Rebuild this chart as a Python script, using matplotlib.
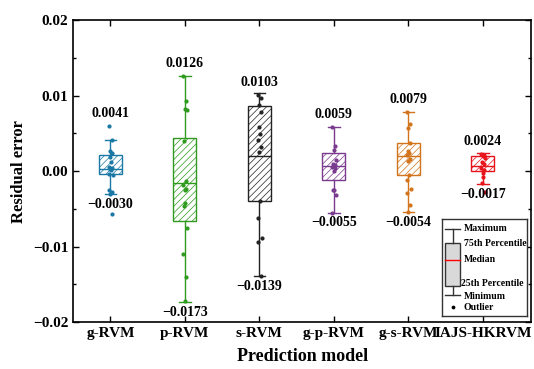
import numpy as np
import matplotlib
matplotlib.use("Agg")
import matplotlib.pyplot as plt
from matplotlib.patches import Rectangle
from matplotlib.ticker import MultipleLocator, FuncFormatter

plt.rcParams['font.family'] = ['Liberation Serif', 'DejaVu Serif']
plt.rcParams['font.weight'] = 'bold'
plt.rcParams['hatch.linewidth'] = 0.5

models = ['g-RVM', 'p-RVM', 's-RVM', 'g-p-RVM', 'g-s-RVM', 'IAJS-HKRVM']
colors = ['#1a78a4', '#2e9a1e', '#222222', '#7a3b8e', '#d2741c', '#e8141c']

q1 = [-0.0004, -0.0066, -0.0040, -0.0011, -0.0005, 0.0000]
med = [0.0003, -0.0015, 0.0020, 0.0007, 0.0020, 0.0007]
q3 = [0.0021, 0.0044, 0.0087, 0.0024, 0.0037, 0.0020]
wmin = [-0.0030, -0.0173, -0.0139, -0.0055, -0.0054, -0.0017]
wmax = [0.0041, 0.0126, 0.0103, 0.0059, 0.0079, 0.0024]

points = [
    [0.0060, 0.0041, 0.0027, 0.0024, 0.0019, 0.0012, 0.0005, 0.0004, 0.0003, 0.0002, -0.0004, -0.0005, -0.0025, -0.0027, -0.0030, -0.0057],
    [0.0126, 0.0093, 0.0082, 0.0081, 0.0040, -0.0013, -0.0018, -0.0024, -0.0025, -0.0042, -0.0046, -0.0075, -0.0110, -0.0140, -0.0172],
    [0.0101, 0.0097, 0.0088, 0.0078, 0.0058, 0.0049, 0.0042, 0.0032, 0.0025, -0.0040, -0.0062, -0.0088, -0.0094, -0.0139],
    [0.0058, 0.0033, 0.0028, 0.0015, 0.0010, 0.0008, 0.0006, 0.0004, 0.0000, -0.0025, -0.0025, -0.0032, -0.0055],
    [0.0078, 0.0062, 0.0057, 0.0038, 0.0027, 0.0024, 0.0022, 0.0016, 0.0013, -0.0005, -0.0012, -0.0023, -0.0029, -0.0045, -0.0054],
    [0.0023, 0.0021, 0.0020, 0.0017, 0.0012, 0.0010, 0.0004, 0.0001, -0.0003, -0.0008, -0.0016, -0.0028],
]

fig = plt.figure(figsize=(5.34, 3.69), dpi=100)
ax = fig.add_axes([0.137, 0.127, 0.858, 0.818])

pos = np.arange(1, len(models) + 1)
stats = []
for i in range(len(models)):
    stats.append(dict(q1=q1[i], med=med[i], q3=q3[i], whislo=wmin[i],
                      whishi=wmax[i], fliers=[], label=models[i]))

bp = ax.bxp(stats, positions=pos, widths=0.31, patch_artist=True, showfliers=False)
for i, c in enumerate(colors):
    box = bp['boxes'][i]
    box.set_facecolor('white')
    box.set_edgecolor(c)
    box.set_hatch('/////')
    box.set_linewidth(1.0)
    for art in (bp['whiskers'][2 * i], bp['whiskers'][2 * i + 1],
                bp['caps'][2 * i], bp['caps'][2 * i + 1]):
        art.set_color(c)
        art.set_linewidth(1.0)
    bp['medians'][i].set_color(c)
    bp['medians'][i].set_linewidth(1.0)

jit = [-0.02, 0.015, 0.0, 0.025, -0.01, 0.01, -0.025, 0.02, -0.005, 0.005, -0.015, 0.03]
for i, c in enumerate(colors):
    pts = points[i]
    xs = pos[i] + np.array([jit[k % len(jit)] for k in range(len(pts))])
    ax.scatter(xs, pts, s=4, color=c, zorder=3)
    ax.text(pos[i], max(pts) + 0.0008, f'{wmax[i]:.4f}', ha='center', va='bottom',
            fontsize=10, fontweight='bold')
    ax.text(pos[i], wmin[i] - 0.0005, f'{wmin[i]:.4f}'.replace('-', '\u2212'),
            ha='center', va='top', fontsize=10, fontweight='bold')

ax.set_xlim(0.5, 6.65)
ax.set_ylim(-0.02, 0.02)
ax.set_xticks(pos)
ax.set_xticklabels(models)
ax.yaxis.set_major_locator(MultipleLocator(0.01))
ax.yaxis.set_minor_locator(MultipleLocator(0.005))
ax.yaxis.set_major_formatter(FuncFormatter(lambda v, p: f'{v:.2f}'.replace('-', '\u2212')))
ax.tick_params(axis='both', which='both', direction='in', top=True, right=True,
               labelsize=11, width=1.0)
ax.tick_params(axis='y', which='major', length=4)
ax.tick_params(axis='y', which='minor', length=2.5)
ax.tick_params(axis='x', length=4)
for lab in ax.get_xticklabels() + ax.get_yticklabels():
    lab.set_fontweight('bold')
for sp in ax.spines.values():
    sp.set_linewidth(1.2)
ax.set_xlabel('Prediction model', fontsize=13, fontweight='bold', labelpad=6)
ax.set_ylabel('Residual error', fontsize=12, fontweight='bold')

# legend inset
lg = fig.add_axes([0.827, 0.144, 0.160, 0.263])
lg.set_xlim(0, 1)
lg.set_ylim(0, 1)
lg.set_xticks([])
lg.set_yticks([])
for sp in lg.spines.values():
    sp.set_linewidth(1.0)
    sp.set_color('#333333')
lg.add_patch(Rectangle((0.04, 0.31), 0.18, 0.445, facecolor='#d9d9d9',
                       edgecolor='#333333', lw=1.0))
lg.plot([0.13, 0.13], [0.755, 0.897], color='#333333', lw=1.0)
lg.plot([0.13, 0.13], [0.31, 0.216], color='#333333', lw=1.0)
lg.plot([0.04, 0.22], [0.897, 0.897], color='#333333', lw=1.0)
lg.plot([0.04, 0.22], [0.216, 0.216], color='#333333', lw=1.0)
lg.plot([0.04, 0.22], [0.577, 0.577], color='red', lw=1.0)
lg.scatter([0.13], [0.093], s=3, color='black')
lab_kw = dict(fontsize=7, fontweight='bold', va='center')
lg.text(0.26, 0.897, 'Maximum', **lab_kw)
lg.text(0.26, 0.75, '75th Percentile', **lab_kw)
lg.text(0.26, 0.577, 'Median', **lab_kw)
lg.text(0.23, 0.33, '25th Percentile', **lab_kw)
lg.text(0.26, 0.20, 'Minimum', **lab_kw)
lg.text(0.26, 0.09, 'Outlier', **lab_kw)

fig.savefig('out.png', dpi=100)
